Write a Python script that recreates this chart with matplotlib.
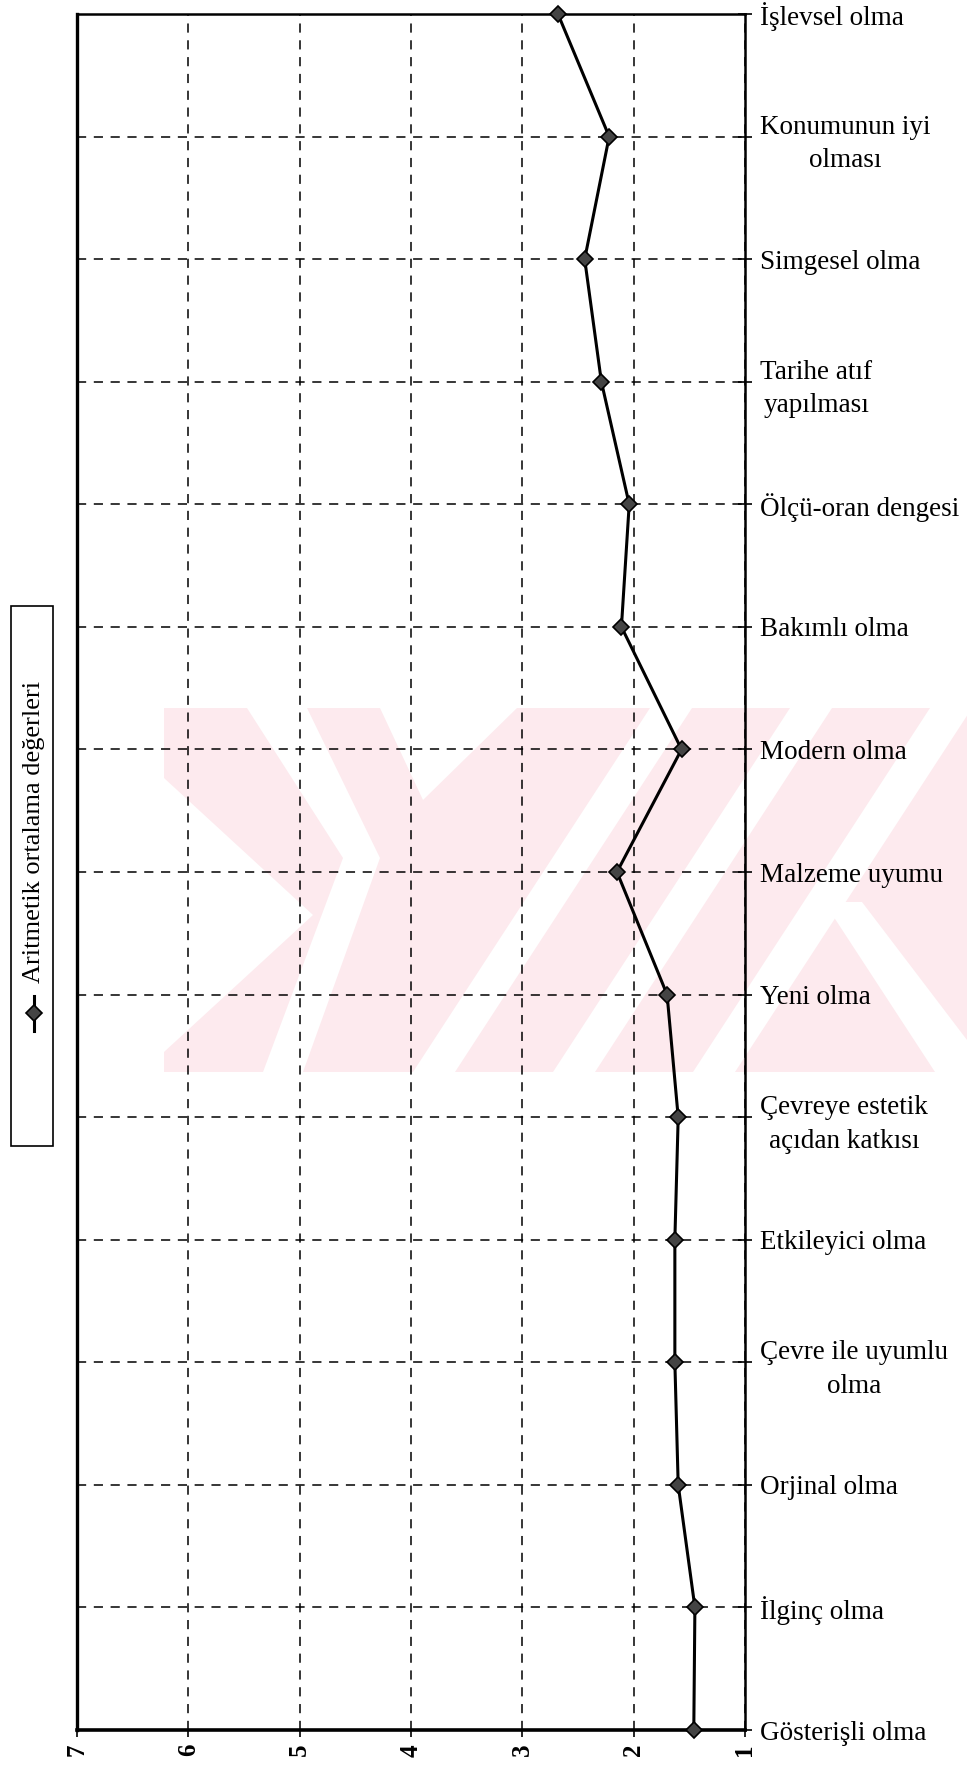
import matplotlib as mpl
mpl.use("agg")
import matplotlib.pyplot as plt
from matplotlib.patches import Polygon, Rectangle
from matplotlib.lines import Line2D

# mean scores per criterion (top to bottom)
categories = ['İşlevsel olma', 'Konumunun iyi\nolması', 'Simgesel olma',
              'Tarihe atıf\nyapılması', 'Ölçü-oran dengesi', 'Bakımlı olma',
              'Modern olma', 'Malzeme uyumu', 'Yeni olma',
              'Çevreye estetik\naçıdan katkısı', 'Etkileyici olma',
              'Çevre ile uyumlu\nolma', 'Orjinal olma', 'İlginç olma',
              'Gösterişli olma']
means = [2.68, 2.22, 2.44, 2.29, 2.04, 2.11, 1.57, 2.15, 1.70,
         1.60, 1.63, 1.63, 1.60, 1.45, 1.46]
value_ticks = [7, 6, 5, 4, 3, 2, 1]
series_name = 'Aritmetik ortalama değerleri'

W, H = 967, 1775
plt.rcParams['font.family'] = ['Liberation Serif', 'DejaVu Serif']


def px(x, y):
    # pixel position (from top-left) -> figure fraction
    return (x / W, 1 - y / H)


def add_shape(pts, color, z):
    p = Polygon([px(x, y) for x, y in pts], closed=True,
                transform=fig.transFigure, facecolor=color,
                edgecolor='none', zorder=z)
    fig.add_artist(p)
    p.set_clip_path(clip)


fig = plt.figure(figsize=(W / 100, H / 100), dpi=100)
fig.patch.set_facecolor('white')

# faint background stamp: pink band with white cut-outs
T, B = 708, 1072
clip = Rectangle(px(164, B), (967 - 164) / W, (B - T) / H,
                 transform=fig.transFigure, facecolor='none', edgecolor='none')
fig.add_artist(clip)
add_shape([(164, T), (967, T), (967, B), (164, B)], '#fdeaee', -6)
cutouts = [
    [(247, T), (307, T), (380, 858), (303, B), (263, B), (343, 858)],
    [(164, 778), (313, 915), (164, 1052)],
    [(380, T), (517, T), (423, 800)],
    [(650, T), (692, T), (455, B), (413, B)],
    [(790, T), (832, T), (595, B), (553, B)],
    [(930, T), (972, T), (735, B), (693, B)],
    [(824, 902), (862, 902), (967, 1040), (967, B), (935, B)],
]
for s in cutouts:
    add_shape(s, 'white', -5)

ax = fig.add_axes([77 / W, 1 - 1730 / H, (745 - 77) / W, (1730 - 14) / H])
ax.set_facecolor('none')

pos = list(range(len(categories)))
ax.plot(means, pos, color='black', lw=2.2, marker='D', markersize=8,
        markerfacecolor='#444444', markeredgecolor='black', markeredgewidth=1.2,
        clip_on=False, zorder=5)

ax.set_xlim(7, 1)
ax.set_ylim(len(categories) - 1, 0)

ax.set_xticks(value_ticks)
ax.set_xticklabels([str(v) for v in value_ticks], rotation=90,
                   fontsize=18, fontweight='bold')
ax.set_yticks(pos)
ax.yaxis.tick_right()
ax.set_yticklabels(categories, fontsize=19.5, linespacing=1.45)
for lbl in ax.get_yticklabels():
    lbl.set_multialignment('center')

ax.grid(True, color='black', lw=1.1, linestyle=(0, (6, 5)))
ax.set_axisbelow(True)

ax.tick_params(axis='y', right=True, left=False, direction='inout',
               length=10, width=1.2, pad=6)
ax.tick_params(axis='x', direction='out', length=5, width=1.2, pad=5)

for side, w in [('left', 2.4), ('bottom', 2.6), ('right', 1.8), ('top', 1.8)]:
    ax.spines[side].set_linewidth(w)
    ax.spines[side].set_color('black')

# legend box, drawn vertically on the left
box = Rectangle(px(11, 1146), 42 / W, (1146 - 606) / H, transform=fig.transFigure,
                facecolor='white', edgecolor='black', lw=1.2, zorder=3)
fig.add_artist(box)
fig.add_artist(Line2D([34 / W, 34 / W], [1 - 1031 / H, 1 - 996 / H],
                      transform=fig.transFigure, color='black', lw=2.2,
                      zorder=4))
fig.add_artist(Line2D([34 / W], [1 - 1013 / H], transform=fig.transFigure,
                      marker='D', markersize=8, markerfacecolor='#444444',
                      markeredgecolor='black', markeredgewidth=1.2,
                      linestyle='none', zorder=5))
fig.text(34 / W, 1 - 983 / H, series_name, rotation=90, ha='center',
         va='bottom', fontsize=19, zorder=5)

fig.savefig('out.png', dpi=100)
plt.close(fig)
